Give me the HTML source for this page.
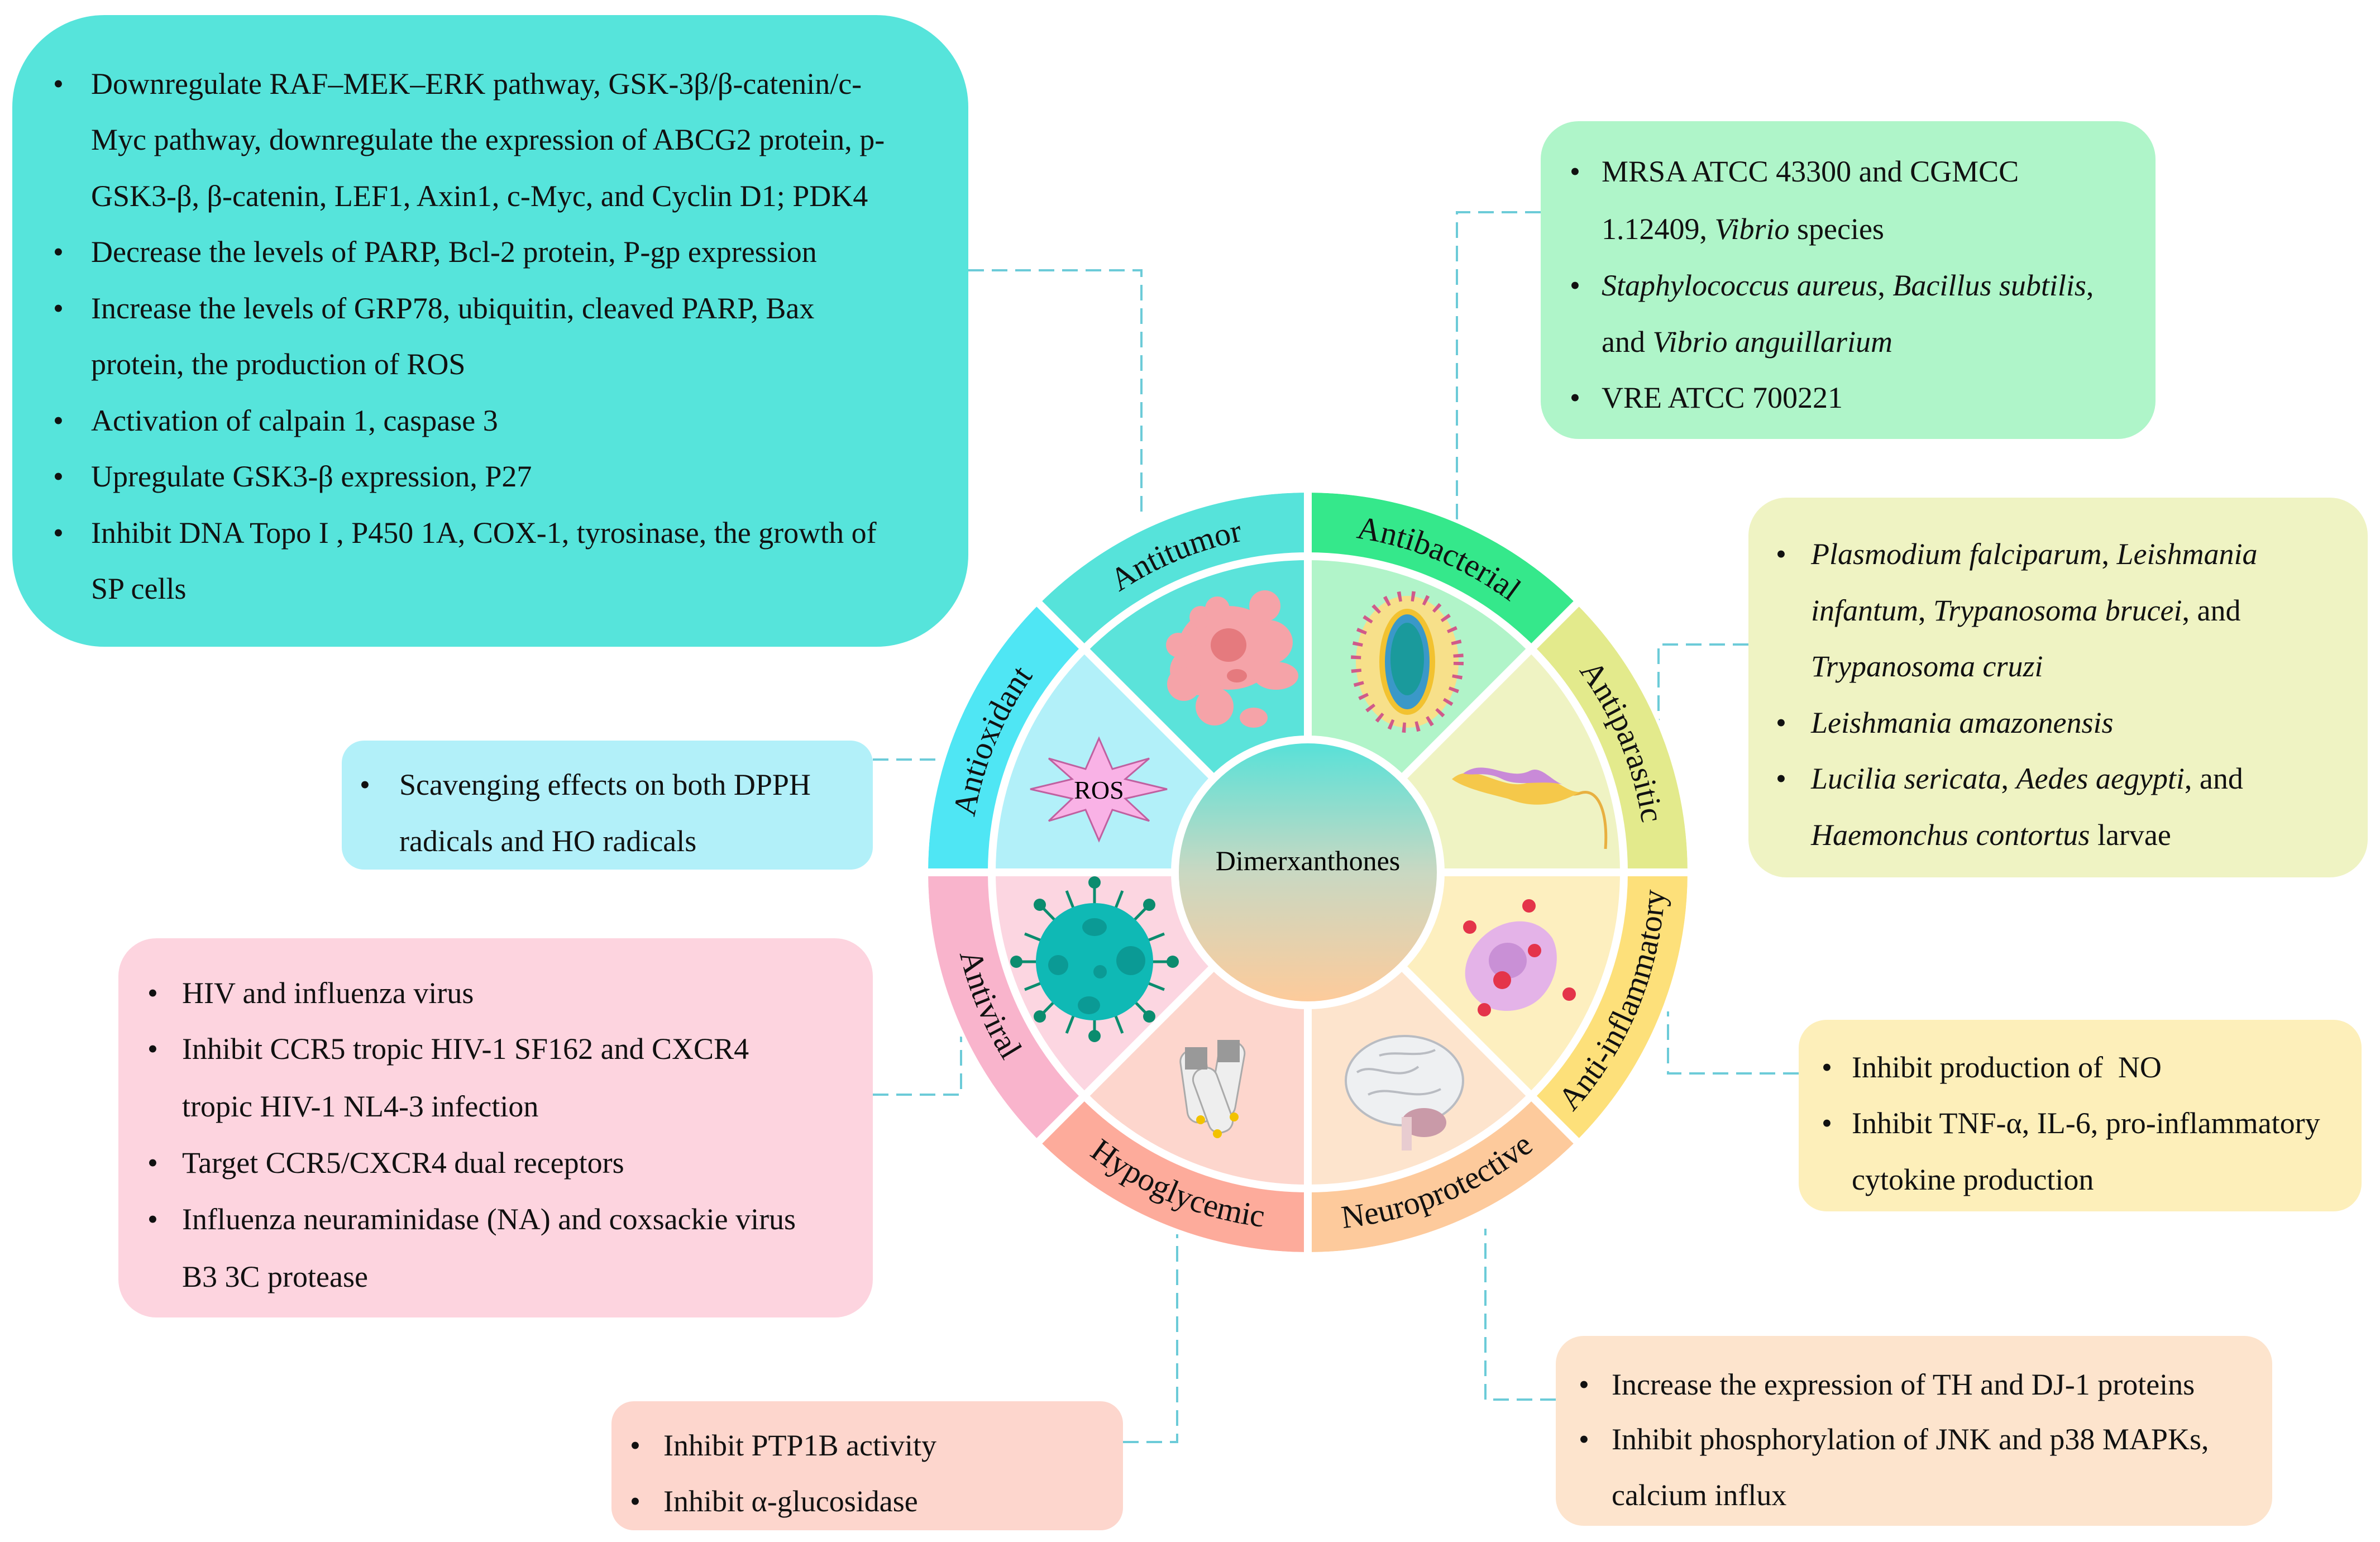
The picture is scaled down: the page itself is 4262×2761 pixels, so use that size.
<!DOCTYPE html>
<html><head><meta charset="utf-8"><style>
html,body{margin:0;padding:0;background:#fff}
body{width:4262px;height:2761px;position:relative;overflow:hidden;font-family:"Liberation Serif",serif;color:#111}
.box{position:absolute;box-sizing:border-box}
.l{position:absolute;white-space:nowrap;font-family:"Liberation Serif",serif;font-size:54px;line-height:100px;height:100px}
.b{position:absolute;font-family:"Liberation Serif",serif;font-size:54px;line-height:100px}
i{font-style:italic}
svg{position:absolute;left:0;top:0}
</style></head><body>

<svg width="4262" height="2761" viewBox="0 0 4262 2761">
<defs>
<linearGradient id="cg" x1="0" y1="0" x2="0" y2="1">
<stop offset="0" stop-color="#58e1d8"/><stop offset="0.5" stop-color="#c9d8c2"/><stop offset="1" stop-color="#fdcb9b"/>
</linearGradient>
<path id="tAntitumor" d="M1914.2,1134.2 A605,605 0 0 1 2342,957"/>
<path id="tAntibacterial" d="M2342,957 A605,605 0 0 1 2769.8,1134.2"/>
<path id="tAntiparasitic" d="M2769.8,1134.2 A605,605 0 0 1 2947,1562"/>
<path id="tAntiinf" d="M2794.5,2014.5 A640,640 0 0 0 2982,1562"/>
<path id="tNeuro" d="M2342,2202 A640,640 0 0 0 2794.5,2014.5"/>
<path id="tHypo" d="M1889.5,2014.5 A640,640 0 0 0 2342,2202"/>
<path id="tAntiviral" d="M1702,1562 A640,640 0 0 0 1889.5,2014.5"/>
<path id="tAntiox" d="M1737,1562 A605,605 0 0 1 1914.2,1134.2"/>
</defs>

<g fill="none" stroke="#6ccbd8" stroke-width="4" stroke-dasharray="28 14">
<path d="M1734,484 H2044 V925"/>
<path d="M2759,380 H2609 V938"/>
<path d="M3131,1154 H2970 V1331"/>
<path d="M1563,1360 H1690"/>
<path d="M1563,1960 H1721 V1856"/>
<path d="M3221,1922 H2987 V1811"/>
<path d="M2786,2506 H2660 V2200"/>
<path d="M2011,2582 H2108 V2210"/>
</g>

<path d="M1861.2,1081.2 A680,680 0 0 1 2342,882 L2342,996 A566,566 0 0 0 1941.8,1161.8Z" fill="#56e3da"/>
<path d="M2342,882 A680,680 0 0 1 2822.8,1081.2 L2742.2,1161.8 A566,566 0 0 0 2342,996Z" fill="#35e88b"/>
<path d="M2822.8,1081.2 A680,680 0 0 1 3022,1562 L2908,1562 A566,566 0 0 0 2742.2,1161.8Z" fill="#e3ea8c"/>
<path d="M3022,1562 A680,680 0 0 1 2822.8,2042.8 L2742.2,1962.2 A566,566 0 0 0 2908,1562Z" fill="#fde07a"/>
<path d="M2822.8,2042.8 A680,680 0 0 1 2342,2242 L2342,2128 A566,566 0 0 0 2742.2,1962.2Z" fill="#fdca9c"/>
<path d="M2342,2242 A680,680 0 0 1 1861.2,2042.8 L1941.8,1962.2 A566,566 0 0 0 2342,2128Z" fill="#fdab9b"/>
<path d="M1861.2,2042.8 A680,680 0 0 1 1662,1562 L1776,1562 A566,566 0 0 0 1941.8,1962.2Z" fill="#f9b4cc"/>
<path d="M1662,1562 A680,680 0 0 1 1861.2,1081.2 L1941.8,1161.8 A566,566 0 0 0 1776,1562Z" fill="#4fe6f4"/>
<path d="M2342,1562 L1941.8,1161.8 A566,566 0 0 1 2342,996Z" fill="#5be3da"/>
<path d="M2342,1562 L2342,996 A566,566 0 0 1 2742.2,1161.8Z" fill="#b1f4c9"/>
<path d="M2342,1562 L2742.2,1161.8 A566,566 0 0 1 2908,1562Z" fill="#eff3c3"/>
<path d="M2342,1562 L2908,1562 A566,566 0 0 1 2742.2,1962.2Z" fill="#fdefbf"/>
<path d="M2342,1562 L2742.2,1962.2 A566,566 0 0 1 2342,2128Z" fill="#fde4cd"/>
<path d="M2342,1562 L2342,2128 A566,566 0 0 1 1941.8,1962.2Z" fill="#fdd6cd"/>
<path d="M2342,1562 L1941.8,1962.2 A566,566 0 0 1 1776,1562Z" fill="#fcd6e1"/>
<path d="M2342,1562 L1776,1562 A566,566 0 0 1 1941.8,1161.8Z" fill="#b2f0f9"/>
<g stroke="#fff" stroke-width="14" fill="none">
<line x1="2342" y1="875" x2="2342" y2="2249"/>
<line x1="1655" y1="1562" x2="3029" y2="1562"/>
<line x1="1856" y1="1076" x2="2828" y2="2048"/>
<line x1="2828" y1="1076" x2="1856" y2="2048"/>
<circle cx="2342" cy="1562" r="566"/>
<circle cx="2342" cy="1562" r="683" stroke-width="6"/>
</g>
<circle cx="2342" cy="1562" r="245" fill="#fff"/>
<circle cx="2342" cy="1562" r="231" fill="url(#cg)"/>
<text x="2342" y="1558" font-size="50" text-anchor="middle" font-family="Liberation Serif,serif">Dimerxanthones</text>

<g font-family="Liberation Serif,serif" font-size="58" fill="#111">
<text><textPath href="#tAntitumor" startOffset="50%" text-anchor="middle">Antitumor</textPath></text>
<text><textPath href="#tAntibacterial" startOffset="50%" text-anchor="middle">Antibacterial</textPath></text>
<text><textPath href="#tAntiparasitic" startOffset="50%" text-anchor="middle">Antiparasitic</textPath></text>
<text><textPath href="#tAntiinf" startOffset="50%" text-anchor="middle">Anti-inflammatory</textPath></text>
<text><textPath href="#tNeuro" startOffset="50%" text-anchor="middle">Neuroprotective</textPath></text>
<text><textPath href="#tHypo" startOffset="50%" text-anchor="middle">Hypoglycemic</textPath></text>
<text><textPath href="#tAntiviral" startOffset="50%" text-anchor="middle">Antiviral</textPath></text>
<text><textPath href="#tAntiox" startOffset="50%" text-anchor="middle">Antioxidant</textPath></text>
</g>

<g fill="#f5a3a8">
<ellipse cx="2200" cy="1160" rx="90" ry="75"/>
<ellipse cx="2150" cy="1200" rx="55" ry="45"/>
<ellipse cx="2270" cy="1150" rx="45" ry="40"/>
<circle cx="2150" cy="1105" r="20"/><circle cx="2180" cy="1090" r="22"/>
<circle cx="2265" cy="1085" r="28"/><circle cx="2110" cy="1155" r="22"/>
<circle cx="2120" cy="1225" r="30"/><circle cx="2175" cy="1265" r="34"/>
<ellipse cx="2285" cy="1210" rx="40" ry="25"/><ellipse cx="2245" cy="1285" rx="25" ry="18"/>
</g>
<ellipse cx="2200" cy="1155" rx="32" ry="30" fill="#e57a7e"/>
<ellipse cx="2215" cy="1210" rx="18" ry="12" fill="#e57a7e"/>
<ellipse cx="2520" cy="1185" rx="92" ry="118" fill="#f7e08a" stroke="#d05a8a" stroke-width="18" stroke-dasharray="6 18"/>
<ellipse cx="2520" cy="1185" rx="50" ry="95" fill="#f2c230"/>
<ellipse cx="2520" cy="1185" rx="40" ry="85" fill="#3a98c8"/>
<ellipse cx="2520" cy="1180" rx="30" ry="65" fill="#1a9a9c"/>
<path d="M2610,1400 C2650,1370 2700,1440 2750,1420 C2790,1400 2800,1430 2830,1420 C2860,1410 2880,1450 2875,1520" fill="none" stroke="#e8b040" stroke-width="5"/>
<path d="M2600,1395 C2640,1360 2690,1420 2740,1400 C2780,1380 2800,1420 2830,1418 C2790,1440 2750,1450 2700,1430 C2660,1420 2620,1410 2600,1395Z" fill="#f5c84a"/>
<path d="M2620,1385 C2660,1355 2700,1400 2740,1380 C2760,1370 2780,1400 2800,1405 C2760,1395 2720,1410 2690,1395 C2660,1380 2640,1390 2620,1385Z" fill="#c98ad8"/>
<path d="M2680,1660 C2720,1640 2760,1650 2780,1680 C2800,1720 2780,1780 2740,1800 C2700,1820 2650,1810 2630,1770 C2610,1730 2640,1680 2680,1660Z" fill="#e4b3e8"/>
<ellipse cx="2700" cy="1720" rx="34" ry="32" fill="#c990d6"/>
<g fill="#e4344a"><circle cx="2632" cy="1660" r="12"/><circle cx="2738" cy="1622" r="12"/><circle cx="2748" cy="1702" r="12"/><circle cx="2690" cy="1755" r="16"/><circle cx="2658" cy="1808" r="12"/><circle cx="2810" cy="1780" r="12"/></g>
<ellipse cx="2515" cy="1935" rx="105" ry="80" fill="#eef0f2" stroke="#b9bcc2" stroke-width="4"/>
<path d="M2430,1920 C2460,1900 2500,1940 2540,1910 M2450,1960 C2490,1940 2530,1975 2580,1950 M2470,1890 C2500,1880 2540,1895 2570,1880" stroke="#b9bcc2" stroke-width="4" fill="none"/>
<ellipse cx="2550" cy="2010" rx="40" ry="26" fill="#c99aa8"/>
<rect x="2510" y="2000" width="18" height="60" fill="#e8ccd0"/>
<g stroke="#aaa" stroke-width="3">
<rect x="2120" y="1880" width="46" height="130" rx="20" fill="#eee" transform="rotate(-8 2143 1945)"/>
<rect x="2175" y="1865" width="46" height="135" rx="20" fill="#eee" transform="rotate(10 2198 1930)"/>
<rect x="2150" y="1910" width="44" height="120" rx="20" fill="#eee" transform="rotate(-20 2172 1970)"/>
</g>
<rect x="2122" y="1875" width="40" height="40" fill="#999"/><rect x="2180" y="1862" width="40" height="40" fill="#999"/>
<circle cx="2150" cy="2005" r="8" fill="#f2c200"/><circle cx="2210" cy="2000" r="8" fill="#f2c200"/><circle cx="2180" cy="2030" r="8" fill="#f2c200"/>
<g stroke="#0b8c6e" stroke-width="5">
<line x1="1960" y1="1580" x2="1960" y2="1855"/><line x1="1820" y1="1722" x2="2100" y2="1722"/>
<line x1="1862" y1="1620" x2="2058" y2="1820"/><line x1="2058" y1="1620" x2="1862" y2="1820"/>
<line x1="1910" y1="1595" x2="2010" y2="1850"/><line x1="2010" y1="1595" x2="1910" y2="1850"/>
<line x1="1835" y1="1672" x2="2085" y2="1772"/><line x1="2085" y1="1672" x2="1835" y2="1772"/>
</g>
<g fill="#0b8c6e"><circle cx="1960" cy="1580" r="11"/><circle cx="1960" cy="1855" r="11"/><circle cx="1820" cy="1722" r="11"/><circle cx="2100" cy="1722" r="11"/><circle cx="1862" cy="1620" r="11"/><circle cx="2058" cy="1620" r="11"/><circle cx="1862" cy="1820" r="11"/><circle cx="2058" cy="1820" r="11"/></g>
<circle cx="1960" cy="1722" r="105" fill="#0fb9b5"/>
<g fill="#0b9a95"><ellipse cx="1960" cy="1660" rx="22" ry="16"/><circle cx="2025" cy="1720" r="26"/><circle cx="1895" cy="1728" r="18"/><circle cx="1970" cy="1740" r="12"/><ellipse cx="1950" cy="1800" rx="20" ry="16"/></g>
<polygon points="1968,1322 1992,1377 2058,1358 2015,1395 2090,1413 2015,1430 2058,1470 1992,1450 1968,1505 1944,1450 1878,1470 1920,1430 1845,1413 1920,1395 1878,1358 1944,1377" fill="#f9b2e6" stroke="#c060a0" stroke-width="3"/>
<text x="1968" y="1430" font-size="46" text-anchor="middle" font-family="Liberation Serif,serif">ROS</text>
</svg>

<div class="box" style="left:22px;top:27px;width:1712px;height:1131px;background:#56e4db;border-radius:165px"></div>
<div class="b" style="left:95px;top:100px">•</div>
<div class="l" style="left:163px;top:100px">Downregulate RAF–MEK–ERK pathway, GSK-3β/β-catenin/c-</div>
<div class="l" style="left:163px;top:200px">Myc pathway, downregulate the expression of ABCG2 protein, p-</div>
<div class="l" style="left:163px;top:301px">GSK3-β, β-catenin, LEF1, Axin1, c-Myc, and Cyclin D1; PDK4</div>
<div class="b" style="left:95px;top:401px">•</div>
<div class="l" style="left:163px;top:401px">Decrease the levels of PARP, Bcl-2 protein, P-gp expression</div>
<div class="b" style="left:95px;top:502px">•</div>
<div class="l" style="left:163px;top:502px">Increase the levels of GRP78, ubiquitin, cleaved PARP, Bax</div>
<div class="l" style="left:163px;top:602px">protein, the production of ROS</div>
<div class="b" style="left:95px;top:703px">•</div>
<div class="l" style="left:163px;top:703px">Activation of calpain 1, caspase 3</div>
<div class="b" style="left:95px;top:803px">•</div>
<div class="l" style="left:163px;top:803px">Upregulate GSK3-β expression, P27</div>
<div class="b" style="left:95px;top:904px">•</div>
<div class="l" style="left:163px;top:904px">Inhibit DNA Topo I , P450 1A, COX-1, tyrosinase, the growth of</div>
<div class="l" style="left:163px;top:1004px">SP cells</div>

<div class="box" style="left:2759px;top:217px;width:1101px;height:569px;background:#aff5c9;border-radius:68px"></div>
<div class="b" style="left:2811px;top:257px">•</div>
<div class="l" style="left:2868px;top:257px">MRSA ATCC 43300 and CGMCC</div>
<div class="l" style="left:2868px;top:360px">1.12409, <i>Vibrio</i> species</div>
<div class="b" style="left:2811px;top:461px">•</div>
<div class="l" style="left:2868px;top:461px"><i>Staphylococcus aureus</i>, <i>Bacillus subtilis</i>,</div>
<div class="l" style="left:2868px;top:562px">and <i>Vibrio anguillarium</i></div>
<div class="b" style="left:2811px;top:662px">•</div>
<div class="l" style="left:2868px;top:662px">VRE ATCC 700221</div>

<div class="box" style="left:3131px;top:891px;width:1109px;height:680px;background:#eff3c3;border-radius:68px"></div>
<div class="b" style="left:3180px;top:942px">•</div>
<div class="l" style="left:3243px;top:942px"><i>Plasmodium falciparum</i>, <i>Leishmania</i></div>
<div class="l" style="left:3243px;top:1043px"><i>infantum</i>, <i>Trypanosoma brucei</i>, and</div>
<div class="l" style="left:3243px;top:1143px"><i>Trypanosoma cruzi</i></div>
<div class="b" style="left:3180px;top:1244px">•</div>
<div class="l" style="left:3243px;top:1244px"><i>Leishmania amazonensis</i></div>
<div class="b" style="left:3180px;top:1344px">•</div>
<div class="l" style="left:3243px;top:1344px"><i>Lucilia sericata</i>, <i>Aedes aegypti</i>, and</div>
<div class="l" style="left:3243px;top:1445px"><i>Haemonchus contortus</i> larvae</div>

<div class="box" style="left:612px;top:1326px;width:951px;height:231px;background:#b2f0f9;border-radius:40px"></div>
<div class="b" style="left:644px;top:1355px">•</div>
<div class="l" style="left:715px;top:1355px">Scavenging effects on both DPPH</div>
<div class="l" style="left:715px;top:1456px">radicals and HO radicals</div>

<div class="box" style="left:212px;top:1680px;width:1351px;height:679px;background:#fdd4df;border-radius:68px"></div>
<div class="b" style="left:264px;top:1728px">•</div>
<div class="l" style="left:326px;top:1728px">HIV and influenza virus</div>
<div class="b" style="left:264px;top:1828px">•</div>
<div class="l" style="left:326px;top:1828px">Inhibit CCR5 tropic HIV-1 SF162 and CXCR4</div>
<div class="l" style="left:326px;top:1931px">tropic HIV-1 NL4-3 infection</div>
<div class="b" style="left:264px;top:2032px">•</div>
<div class="l" style="left:326px;top:2032px">Target CCR5/CXCR4 dual receptors</div>
<div class="b" style="left:264px;top:2133px">•</div>
<div class="l" style="left:326px;top:2133px">Influenza neuraminidase (NA) and coxsackie virus</div>
<div class="l" style="left:326px;top:2236px">B3 3C protease</div>

<div class="box" style="left:3221px;top:1826px;width:1008px;height:343px;background:#fdefba;border-radius:50px"></div>
<div class="b" style="left:3262px;top:1861px">•</div>
<div class="l" style="left:3316px;top:1861px">Inhibit production of&nbsp; NO</div>
<div class="b" style="left:3262px;top:1961px">•</div>
<div class="l" style="left:3316px;top:1961px">Inhibit TNF-α, IL-6, pro-inflammatory</div>
<div class="l" style="left:3316px;top:2062px">cytokine production</div>

<div class="box" style="left:2786px;top:2392px;width:1283px;height:340px;background:#fde4cd;border-radius:50px"></div>
<div class="b" style="left:2827px;top:2429px">•</div>
<div class="l" style="left:2886px;top:2429px">Increase the expression of TH and DJ-1 proteins</div>
<div class="b" style="left:2827px;top:2527px">•</div>
<div class="l" style="left:2886px;top:2527px">Inhibit phosphorylation of JNK and p38 MAPKs,</div>
<div class="l" style="left:2886px;top:2627px">calcium influx</div>

<div class="box" style="left:1095px;top:2509px;width:916px;height:231px;background:#fdd6cd;border-radius:40px"></div>
<div class="b" style="left:1128px;top:2538px">•</div>
<div class="l" style="left:1188px;top:2538px">Inhibit PTP1B activity</div>
<div class="b" style="left:1128px;top:2638px">•</div>
<div class="l" style="left:1188px;top:2638px">Inhibit α-glucosidase</div>

</body></html>
